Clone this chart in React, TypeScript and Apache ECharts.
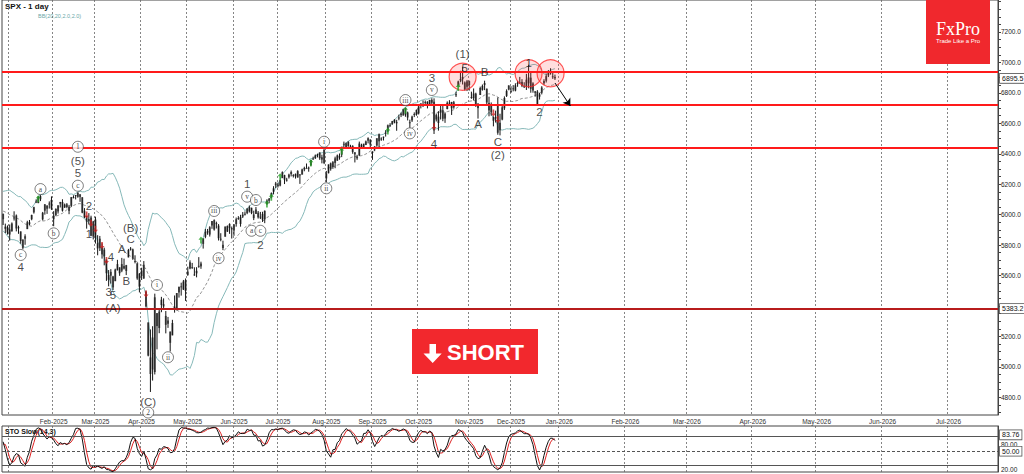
import React, { useEffect, useRef } from "react";
import * as echarts from "echarts";

// ---- OHLC data, one small array per month: [day, open, high, low, close] ----
const nov2024 = [[26,5992,6025,5983,6021],[27,6014,6020,5984,5999],[29,6003,6044,6003,6032]];
const dec2024 = [[2,6040,6053,6022,6047],[3,6041,6055,6033,6050],[4,6069,6089,6061,6087],[5,6089,6099,6073,6075],[6,6082,6099,6080,6090],[9,6084,6088,6048,6053],[10,6058,6065,6023,6034],[11,6060,6092,6060,6084],[12,6074,6079,6051,6051],[13,6068,6079,6033,6051],[16,6063,6085,6059,6074],[17,6052,6057,6035,6051],[18,6047,6070,5867,5872],[19,5913,5936,5866,5867],[20,5842,5982,5832,5931],[23,5941,5979,5926,5974],[24,5984,6040,5983,6040],[26,6024,6049,6007,6037],[27,6006,6006,5932,5970],[30,5921,5941,5879,5907],[31,5920,5929,5869,5882]];
const jan2025 = [[2,5903,5935,5829,5869],[3,5891,5949,5888,5942],[6,5982,6022,5961,5975],[7,5994,6001,5890,5909],[8,5910,5928,5874,5918],[10,5890,5890,5809,5827],[13,5782,5838,5773,5836],[14,5858,5871,5802,5842],[15,5905,5960,5905,5950],[16,5950,5965,5930,5937],[17,5970,6000,5963,5997],[21,6015,6052,6007,6049],[22,6081,6100,6076,6086],[23,6076,6119,6075,6119],[24,6121,6128,6089,6101],[27,5969,6018,5962,6012],[28,6026,6070,6000,6067],[29,6058,6063,6005,6039],[30,6073,6087,6040,6071],[31,6097,6120,6031,6040]];
const feb2025 = [[3,5970,6023,5924,5994],[4,5998,6042,5990,6037],[5,6021,6062,6007,6061],[6,6072,6084,6047,6083],[7,6083,6101,6020,6026],[10,6047,6073,6044,6066],[11,6050,6076,6042,6068],[12,6025,6064,6003,6052],[13,6058,6116,6051,6115],[14,6115,6127,6107,6114],[18,6122,6129,6100,6129],[19,6117,6147,6111,6144],[20,6134,6134,6084,6117],[21,6114,6115,6009,6013],[24,6026,6043,5977,5983],[25,5982,5992,5908,5955],[26,5971,6010,5935,5956],[27,5981,5993,5858,5861],[28,5857,5959,5837,5955]];
const mar2025 = [[3,5968,5987,5810,5850],[4,5812,5865,5733,5778],[5,5782,5860,5761,5842],[6,5785,5812,5711,5739],[7,5726,5783,5667,5770],[10,5705,5705,5565,5615],[11,5603,5636,5529,5572],[12,5624,5642,5547,5599],[13,5594,5598,5505,5522],[14,5563,5645,5563,5639],[17,5635,5703,5633,5675],[18,5654,5654,5598,5615],[19,5632,5716,5622,5675],[20,5646,5711,5640,5662],[21,5630,5670,5603,5668],[24,5719,5775,5719,5768],[25,5772,5787,5764,5777],[26,5772,5777,5703,5712],[27,5696,5733,5680,5693],[28,5679,5685,5572,5581],[31,5527,5616,5489,5612]];
const apr2025 = [[1,5597,5651,5571,5633],[2,5581,5695,5578,5671],[3,5492,5500,5390,5397],[4,5292,5292,5069,5074],[7,4953,5246,4835,5062],[8,5193,5267,4910,4982],[9,4966,5481,4950,5457],[10,5353,5353,5115,5268],[11,5255,5381,5221,5363],[14,5441,5460,5359,5406],[15,5412,5450,5387,5397],[16,5335,5367,5220,5276],[17,5305,5328,5256,5283],[21,5232,5232,5101,5158],[22,5207,5309,5207,5288],[23,5395,5469,5356,5376],[24,5381,5485,5371,5485],[25,5489,5528,5455,5525],[28,5529,5553,5468,5529],[29,5508,5571,5505,5561],[30,5499,5581,5433,5569]];
const may2025 = [[1,5626,5658,5598,5604],[2,5646,5700,5641,5687],[5,5655,5683,5644,5650],[6,5606,5654,5598,5607],[7,5614,5655,5588,5631],[8,5663,5721,5651,5664],[9,5679,5691,5644,5660],[12,5808,5844,5777,5844],[13,5854,5906,5845,5886],[14,5882,5906,5868,5892],[15,5869,5924,5856,5917],[16,5929,5958,5907,5958],[19,5902,5969,5895,5964],[20,5944,5954,5909,5940],[21,5928,5938,5830,5845],[22,5841,5878,5825,5842],[23,5781,5829,5767,5802],[27,5855,5922,5855,5922],[28,5925,5929,5886,5889],[29,5939,5943,5874,5912],[30,5903,5922,5843,5912]];
const jun2025 = [[2,5896,5937,5861,5936],[3,5938,5981,5921,5970],[4,5978,5990,5966,5971],[5,5985,5999,5921,5939],[6,5987,6017,5978,6000],[9,6005,6021,5994,6006],[10,6010,6043,6003,6039],[11,6049,6060,6014,6022],[12,6010,6046,6003,6045],[13,6001,6026,5964,5977],[16,6005,6050,6005,6033],[17,6013,6024,5974,5982],[18,5987,6018,5971,5981],[20,6004,6019,5952,5967],[23,5970,6028,5944,6025],[24,6069,6101,6065,6092],[25,6105,6109,6075,6092],[26,6112,6146,6107,6141],[27,6151,6187,6133,6173],[30,6193,6215,6175,6205]];
const jul2025 = [[1,6187,6210,6178,6198],[2,6191,6227,6186,6227],[3,6240,6284,6240,6279],[7,6260,6262,6201,6230],[8,6230,6242,6217,6226],[9,6245,6269,6237,6263],[10,6266,6290,6251,6280],[11,6256,6266,6244,6260],[14,6251,6270,6237,6268],[15,6286,6292,6243,6244],[16,6258,6267,6202,6264],[17,6263,6302,6263,6297],[18,6307,6315,6285,6297],[21,6305,6336,6303,6306],[22,6307,6316,6282,6309],[23,6326,6360,6318,6359],[24,6368,6381,6361,6363],[25,6371,6395,6366,6389],[28,6397,6401,6376,6390],[29,6409,6409,6360,6371],[30,6377,6394,6337,6362],[31,6428,6428,6332,6339]];
const aug2025 = [[1,6270,6287,6212,6238],[4,6272,6330,6271,6330],[5,6337,6342,6289,6299],[6,6313,6352,6301,6345],[7,6370,6381,6305,6340],[8,6355,6395,6353,6389],[11,6386,6402,6361,6374],[12,6394,6446,6378,6446],[13,6461,6480,6445,6466],[14,6441,6474,6441,6469],[15,6479,6482,6446,6450],[18,6446,6459,6439,6449],[19,6452,6456,6400,6412],[20,6410,6410,6343,6396],[21,6380,6393,6360,6370],[22,6389,6480,6386,6467],[25,6458,6466,6438,6439],[26,6439,6466,6437,6466],[27,6458,6487,6457,6481],[28,6486,6508,6468,6502],[29,6493,6495,6444,6460]];
const sep2025 = [[2,6405,6416,6360,6416],[3,6439,6450,6417,6448],[4,6454,6502,6446,6502],[5,6529,6533,6443,6482],[8,6500,6508,6485,6495],[9,6506,6513,6487,6512],[10,6539,6555,6513,6532],[11,6546,6592,6541,6587],[12,6588,6601,6577,6584],[15,6595,6616,6590,6615],[16,6624,6627,6600,6606],[17,6609,6623,6551,6600],[18,6639,6657,6620,6631],[19,6654,6671,6641,6664],[22,6651,6696,6651,6693],[23,6701,6702,6643,6657],[24,6671,6677,6619,6638],[25,6607,6624,6570,6605],[26,6619,6650,6609,6644],[29,6661,6672,6641,6661],[30,6656,6691,6650,6688]];
const oct2025 = [[1,6665,6716,6658,6711],[2,6731,6731,6698,6715],[3,6722,6750,6707,6716],[6,6740,6750,6722,6740],[7,6742,6745,6698,6714],[8,6727,6754,6719,6754],[9,6754,6765,6722,6735],[10,6742,6764,6530,6553],[13,6625,6664,6612,6654],[14,6602,6680,6552,6644],[15,6690,6724,6625,6671],[16,6686,6715,6614,6630],[17,6631,6672,6603,6664],[20,6694,6744,6692,6735],[21,6736,6752,6718,6735],[22,6740,6741,6655,6699],[23,6705,6747,6696,6738],[24,6784,6808,6773,6792],[27,6842,6880,6842,6875],[28,6883,6945,6872,6891],[29,6905,6972,6855,6890],[30,6868,6875,6815,6822],[31,6876,6885,6812,6840]];
const nov2025 = [[3,6877,6881,6815,6852],[4,6773,6808,6761,6771],[5,6765,6829,6750,6796],[6,6795,6801,6708,6720],[7,6700,6733,6631,6728],[10,6786,6841,6786,6832],[11,6820,6855,6815,6846],[12,6865,6880,6818,6851],[13,6827,6829,6722,6737],[14,6685,6775,6646,6734],[17,6725,6737,6650,6672],[18,6640,6646,6580,6617],[19,6631,6683,6605,6642],[20,6720,6770,6525,6538],[21,6555,6663,6521,6603],[24,6625,6715,6620,6705],[25,6699,6777,6688,6766],[26,6780,6823,6773,6813],[28,6822,6850,6817,6849]];
const dec2025 = [[1,6813,6844,6800,6813],[2,6830,6851,6810,6829],[3,6815,6863,6810,6850],[4,6866,6880,6840,6857],[5,6866,6905,6858,6870],[8,6872,6890,6838,6846],[9,6844,6870,6832,6840],[10,6840,6925,6819,6887],[11,6863,6985,6830,6901],[12,6900,6940,6801,6827],[15,6862,6870,6801,6816],[16,6810,6812,6775,6800],[17,6808,6818,6720,6721],[18,6790,6801,6756,6775],[19,6801,6844,6790,6835],[22,6863,6890,6852,6878],[23,6880,6925,6868,6910],[24,6915,6950,6904,6932],[26,6935,6962,6920,6930],[29,6909,6935,6892,6906],[30,6905,6920,6885,6895.5]];

const MONTHS: [number, number, number[][]][] = [
  [2024, 11, nov2024], [2024, 12, dec2024], [2025, 1, jan2025], [2025, 2, feb2025], [2025, 3, mar2025],
  [2025, 4, apr2025], [2025, 5, may2025], [2025, 6, jun2025], [2025, 7, jul2025], [2025, 8, aug2025],
  [2025, 9, sep2025], [2025, 10, oct2025], [2025, 11, nov2025], [2025, 12, dec2025],
];
const FIRST_VISIBLE = "2024-12-27";
const FUTURE_SLOTS = 201;
const DAYS_PER_SLOT = 1.0237;
const MONTH_NAMES = ["Jan","Feb","Mar","Apr","May","Jun","Jul","Aug","Sep","Oct","Nov","Dec"];
const HIDDEN_MONTH_LABELS = ["2025-01"];

// ---- axis / level values ----
const Y_MIN = 4683.7;
const Y_MAX = 7410.2;
const PRICE_TICKS = [4800, 5000, 5200, 5600, 5800, 6000, 6200, 6400, 6600, 6800, 7000, 7200];
const MINOR_TICKS = [4700,4750,4800,4850,4900,4950,5000,5050,5100,5150,5200,5250,5300,5350,5400,5450,5500,5550,5600,5650,5700,5750,5800,5850,5900,5950,6000,6050,6100,6150,6200,6250,6300,6350,6400,6450,6500,6550,6600,6650,6700,6750,6800,6850,6900,6950,7000,7050,7100,7150,7200,7250,7300,7350,7400];
const RESISTANCE_LEVELS = [6937, 6720, 6438];
const SUPPORT_LEVEL = 5383.2;
const LAST_PRICE = 6895.5;
const STO_MIN = 7;
const STO_MAX = 102;
const STO_LEVELS = [80, 50, 20];
const STO_LAST = 83.76;

// ---- annotations: [bar index, price, text] ----
const WAVE_LABELS: [number, number, string][] = [
  [8.4,5658,"4"],[34.2,6274,"5"],[34.2,6352,"(5)"],[39.3,6059,"2"],[38.7,5871,"1"],
  [57.95,5914,"(B)"],[57.7,5838,"C"],[53.8,5772,"A"],[49.05,5720,"4"],[55.9,5564,"B"],
  [48.1,5493,"3"],[50.1,5471,"5"],[50,5385,"(A)"],[66.3,4767,"(C)"],[111.1,6199,"1"],
  [117.4,5801,"2"],[194.5,6896,"3"],[195.7,6464,"4"],[209.4,7055,"(1)"],[209.7,6962,"5"],
  [218.6,6939,"B"],[215.6,6596,"A"],[225.1,6479,"C"],[225.1,6392,"(2)"],[239.05,6998,"1"],[243.8,6676,"2"],
];
const CIRCLED_LABELS: [number, number, string][] = [
  [8.1,5735,"c"],[16.7,6168,"a"],[22.95,5877,"b"],[34.2,6190,"c"],[34.2,6446,"1"],
  [69.5,5538,"i"],[75.2,5063,"ii"],[66.3,4700,"2"],[98.4,5714,"iv"],[95.7,6024,"iii"],
  [111.1,6118,"v"],[114.7,6096,"b"],[112.6,5894,"a"],[117.05,5894,"c"],[146.1,6479,"i"],
  [147.05,6173,"ii"],[183.3,6753,"iii"],[185,6534,"iv"],[194.5,6819,"v"],
];
const BUY_SIGNALS: [number, number][] = [
  [16.4,6105],[89.95,5833],[119.95,6070],[122.4,6114],[126.3,6249],[140.4,6341],
  [153.9,6418],[175.2,6550],[182.7,6686],[206.5,6835],
];
const SELL_SIGNALS: [number, number][] = [
  [38.1,5998],[40.3,5943],[42.2,5904],[44.7,5797],[46.8,5699],[64.5,5479],
  [195.9,6578],[222.5,6668],[224.7,6625],
];
const TOP_CIRCLES: [number, number][] = [[209.1,6906],[238.8,6929],[249.3,6929]];
const FORECAST_ARROW: [number, number][] = [[251.3,6865],[257.7,6714]];

const pad = (n: number) => (n < 10 ? "0" + n : "" + n);

function buildData() {
  const dates: string[] = [];
  const o: number[] = [], h: number[] = [], l: number[] = [], c: number[] = [];
  MONTHS.forEach(([y, m, rows]) => {
    rows.forEach((r) => {
      dates.push(`${y}-${pad(m)}-${pad(r[0])}`);
      o.push(r[1]); h.push(r[2]); l.push(r[3]); c.push(r[4]);
    });
  });
  const n = c.length;
  const up: (number | null)[] = [], mid: (number | null)[] = [], lo: (number | null)[] = [];
  for (let i = 0; i < n; i++) {
    if (i < 19) { up.push(null); mid.push(null); lo.push(null); continue; }
    let s = 0;
    for (let j = i - 19; j <= i; j++) s += c[j];
    const mean = s / 20;
    let v = 0;
    for (let j = i - 19; j <= i; j++) v += (c[j] - mean) ** 2;
    const sd = Math.sqrt(v / 20);
    up.push(mean + 2 * sd); mid.push(mean); lo.push(mean - 2 * sd);
  }
  const num: number[] = [], den: number[] = [];
  for (let i = 0; i < n; i++) {
    if (i < 13) { num.push(NaN); den.push(NaN); continue; }
    let hh = -Infinity, ll = Infinity;
    for (let j = i - 13; j <= i; j++) { hh = Math.max(hh, h[j]); ll = Math.min(ll, l[j]); }
    num.push(c[i] - ll); den.push(hh - ll);
  }
  const k: (number | null)[] = [];
  for (let i = 0; i < n; i++) {
    if (i < 15) { k.push(null); continue; }
    const a = num[i] + num[i - 1] + num[i - 2];
    const b = den[i] + den[i - 1] + den[i - 2];
    k.push(b === 0 ? 100 : (100 * a) / b);
  }
  const d: (number | null)[] = [];
  for (let i = 0; i < n; i++) {
    if (i < 17) { d.push(null); continue; }
    d.push(((k[i] as number) + (k[i - 1] as number) + (k[i - 2] as number)) / 3);
  }
  const s0 = dates.indexOf(FIRST_VISIBLE);
  const vis = dates.slice(s0);
  const bars = vis.map((_, i) => [i, o[s0 + i], h[s0 + i], l[s0 + i], c[s0 + i]]);
  const last = new Date(dates[n - 1] + "T00:00:00Z");
  const future: string[] = [];
  for (let kk = 1; kk <= FUTURE_SLOTS; kk++) {
    const dt = new Date(last.getTime() + Math.round(kk * DAYS_PER_SLOT) * 86400000);
    future.push(`${dt.getUTCFullYear()}-${pad(dt.getUTCMonth() + 1)}-${pad(dt.getUTCDate())}`);
  }
  const cats = vis.concat(future);
  return {
    cats, bars,
    up: up.slice(s0), mid: mid.slice(s0), lo: lo.slice(s0),
    k: k.slice(s0), d: d.slice(s0),
  };
}

export default function App() {
  const ref = useRef<HTMLDivElement>(null);
  useEffect(() => {
    document.body.style.margin = "0";
    if (!ref.current) return;
    const chart = echarts.init(ref.current, null, { renderer: "svg" });
    const { cats, bars, up, mid, lo, k, d } = buildData();
    const monthStart = cats.map((v, i) => i > 0 && v.slice(0, 7) !== cats[i - 1].slice(0, 7));
    const labelShown = cats.map((v, i) => monthStart[i] && !HIDDEN_MONTH_LABELS.includes(v.slice(0, 7)));
    const fmtMonth = (v: string) => `${MONTH_NAMES[parseInt(v.slice(5, 7), 10) - 1]}-${v.slice(0, 4)}`;
    const gridLine = { show: true, interval: (i: number) => monthStart[i], lineStyle: { color: "#666", type: [2, 2], width: 0.8 } };
    const FONT = "Liberation Sans, Arial, sans-serif";
    const hiddenLine = { color: "rgba(0,0,0,0)", width: 0.1, type: "solid" };
    const boxLabel = (txt: string) => ({
      show: true, position: "end", distance: 2, formatter: txt, fontSize: 7, color: "#111",
      backgroundColor: "#fff", borderColor: "#555", borderWidth: 0.8, padding: [1, 2], fontFamily: FONT,
    });

    const option: any = {
      animation: false,
      backgroundColor: "#fff",
      textStyle: { fontFamily: FONT },
      grid: [
        { left: 2, top: 0, width: 996, height: 415, show: true, borderColor: "#444", borderWidth: 1 },
        { left: 2, top: 426, width: 996, height: 46, show: true, borderColor: "#444", borderWidth: 1 },
      ],
      xAxis: [
        {
          type: "category", gridIndex: 0, data: cats, boundaryGap: true,
          axisLine: { show: false }, axisTick: { show: false },
          axisLabel: { interval: (i: number) => labelShown[i], formatter: (v: string) => fmtMonth(v), fontSize: 6.5, color: "#333", margin: 3 },
          splitLine: gridLine,
        },
        {
          type: "category", gridIndex: 1, data: cats, boundaryGap: true,
          axisLine: { show: false }, axisTick: { show: false }, axisLabel: { show: false },
          splitLine: gridLine,
        },
      ],
      yAxis: [
        {
          type: "value", gridIndex: 0, position: "right", min: Y_MIN, max: Y_MAX,
          axisLine: { show: true, lineStyle: { color: "#444" } },
          axisTick: { show: true, length: 3, customValues: MINOR_TICKS, lineStyle: { color: "#444" } },
          axisLabel: { customValues: PRICE_TICKS, formatter: (v: number) => v.toFixed(1), fontSize: 6.5, color: "#222", margin: 3 },
          splitLine: { show: false },
        },
        {
          type: "value", gridIndex: 1, position: "right", min: STO_MIN, max: STO_MAX,
          axisLine: { show: true, lineStyle: { color: "#444" } }, axisTick: { show: false },
          axisLabel: { show: false }, splitLine: { show: false },
        },
      ],
      series: [
        {
          type: "line", name: "bbUp", data: up, symbol: "none", z: 2,
          lineStyle: { color: "#86b9b9", width: 1 },
          markLine: {
            silent: true, symbol: "none", animation: false,
            data: [
              ...RESISTANCE_LEVELS.map((v) => ({ yAxis: v, lineStyle: { color: "#ff1a1a", width: 2, type: "solid" }, label: { show: false } })),
              { yAxis: SUPPORT_LEVEL, lineStyle: { color: "#b81c1c", width: 2, type: "solid" }, label: boxLabel(SUPPORT_LEVEL.toFixed(1)) },
              { yAxis: LAST_PRICE, lineStyle: hiddenLine, label: boxLabel(LAST_PRICE.toFixed(1)) },
              [
                { coord: FORECAST_ARROW[0], symbol: "none", lineStyle: { color: "#000", width: 1, type: "solid" }, label: { show: false } },
                { coord: FORECAST_ARROW[1], symbol: "arrow", symbolSize: 7 },
              ],
            ],
          },
        },
        { type: "line", data: lo, symbol: "none", z: 2, lineStyle: { color: "#86b9b9", width: 1 } },
        { type: "line", data: mid, symbol: "none", z: 2, lineStyle: { color: "#777", width: 0.8, type: [3, 2] } },
        {
          type: "custom", data: bars, z: 3, encode: { x: 0, y: [1, 2, 3, 4] },
          renderItem: (_p: any, api: any) => {
            const x = api.value(0);
            const pO = api.coord([x, api.value(1)]);
            const pH = api.coord([x, api.value(2)]);
            const pL = api.coord([x, api.value(3)]);
            const pC = api.coord([x, api.value(4)]);
            const top = Math.min(pO[1], pC[1]);
            const hgt = Math.max(1, Math.abs(pO[1] - pC[1]));
            return {
              type: "group",
              children: [
                { type: "rect", shape: { x: pO[0] - 1, y: top, width: 2, height: hgt }, style: { fill: "#6a6a6a" } },
                { type: "line", shape: { x1: pH[0], y1: pH[1], x2: pL[0], y2: pL[1] }, style: { stroke: "#151515", lineWidth: 1 } },
              ],
            };
          },
        },
        {
          type: "scatter", data: TOP_CIRCLES, symbol: "circle", symbolSize: 27, z: 4,
          itemStyle: { color: "rgba(255,70,70,0.22)", borderColor: "#ff2a2a", borderWidth: 1.2 },
        },
        {
          type: "scatter", data: BUY_SIGNALS, z: 5, symbolSize: [5, 7],
          symbol: "path://M3,0 L6,3.5 L4,3.5 L4,8 L2,8 L2,3.5 L0,3.5 Z",
          itemStyle: { color: "#25a025" },
        },
        {
          type: "scatter", data: SELL_SIGNALS, z: 5, symbolSize: [5, 7], symbolRotate: 180,
          symbol: "path://M3,0 L6,3.5 L4,3.5 L4,8 L2,8 L2,3.5 L0,3.5 Z",
          itemStyle: { color: "#c81e1e" },
        },
        {
          type: "scatter", data: CIRCLED_LABELS, z: 6, symbol: "circle", symbolSize: 11,
          itemStyle: { color: "#fff", borderColor: "#333", borderWidth: 0.8 },
          label: { show: true, position: "inside", formatter: (p: any) => p.data[2], fontSize: 7.5, color: "#111", fontFamily: "Liberation Serif, serif" },
        },
        {
          type: "scatter", data: WAVE_LABELS, z: 7, symbol: "circle", symbolSize: 1,
          itemStyle: { color: "rgba(0,0,0,0)" },
          label: { show: true, position: "inside", formatter: (p: any) => p.data[2], fontSize: 11.5, color: "#1a1a1a", fontFamily: FONT },
        },
        {
          type: "line", xAxisIndex: 1, yAxisIndex: 1, data: d, symbol: "none",
          lineStyle: { color: "#d22", width: 1 },
        },
        {
          type: "line", xAxisIndex: 1, yAxisIndex: 1, data: k, symbol: "none",
          lineStyle: { color: "#111", width: 1 },
          markLine: {
            silent: true, symbol: "none", animation: false,
            data: [
              { yAxis: STO_LEVELS[0], lineStyle: { color: "#555", width: 1, type: "solid" }, label: { show: true, position: "end", distance: 3, formatter: STO_LEVELS[0].toFixed(2), fontSize: 6.5, color: "#222", offset: [0, 8] } },
              { yAxis: STO_LEVELS[1], lineStyle: { color: "#555", width: 1, type: [3, 2] }, label: boxLabel(STO_LEVELS[1].toFixed(2)) },
              { yAxis: STO_LEVELS[2], lineStyle: { color: "#555", width: 1, type: "solid" }, label: { show: true, position: "end", distance: 3, formatter: STO_LEVELS[2].toFixed(2), fontSize: 6.5, color: "#222", offset: [0, 4] } },
              { yAxis: STO_LAST, lineStyle: hiddenLine, label: boxLabel(STO_LAST.toFixed(2)) },
            ],
          },
        },
      ],
      graphic: [
        { type: "text", left: 5, top: 2, style: { text: "SPX - 1 day", fontSize: 8, fontWeight: "bold", fill: "#111", fontFamily: FONT } },
        { type: "text", left: 38, top: 13, style: { text: "BB(20,20,2.0,2.0)", fontSize: 5.5, fill: "#6aa7a7", fontFamily: FONT } },
        { type: "text", left: 5, top: 428, style: { text: "STO Slow(14,3)", fontSize: 7, fontWeight: "bold", fill: "#111", fontFamily: FONT } },
        { type: "rect", shape: { x: 926, y: 0, width: 64, height: 64 }, style: { fill: "#f0282d" }, z: 10 },
        { type: "text", x: 958, y: 29, style: { text: "FxPro", fontSize: 18, fill: "#fff", fontFamily: "Liberation Serif, DejaVu Serif, serif", align: "center", verticalAlign: "middle" }, z: 11 },
        { type: "text", x: 958, y: 41, style: { text: "Trade Like a Pro", fontSize: 6, fill: "#fff", fontFamily: FONT, align: "center", verticalAlign: "middle" }, z: 11 },
        { type: "rect", shape: { x: 412, y: 329, width: 126, height: 45 }, style: { fill: "#f2282d" }, z: 10 },
        { type: "polygon", shape: { points: [[429.5, 344], [436, 344], [436, 353.5], [441.7, 353.5], [432.7, 363], [423.5, 353.5], [429.5, 353.5]] }, style: { fill: "#fff" }, z: 11 },
        { type: "text", x: 447, y: 352.5, style: { text: "SHORT", fontSize: 22, fontWeight: "bold", fill: "#fff", fontFamily: FONT, verticalAlign: "middle" }, z: 11 },
      ],
    };
    chart.setOption(option);
    return () => chart.dispose();
  }, []);
  return <div ref={ref} style={{ width: 1024, height: 474 }} />;
}
